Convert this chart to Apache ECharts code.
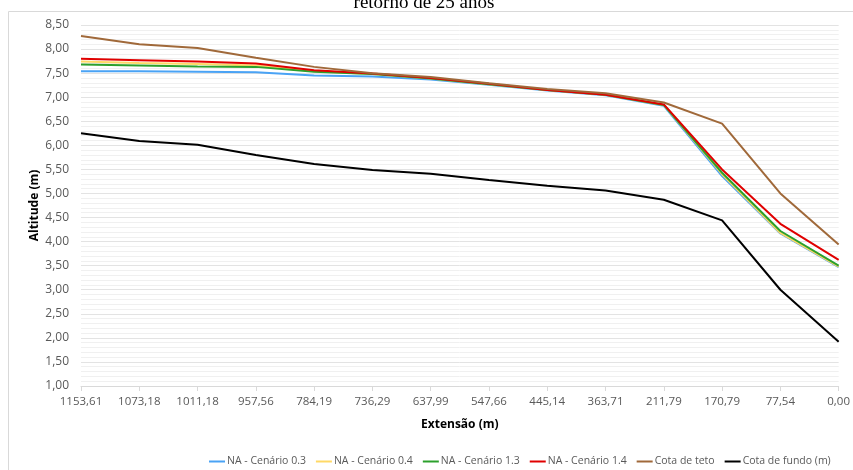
<!DOCTYPE html>
<html lang="pt">
<head>
    <meta charset="UTF-8">
    <title>Perfil - retorno de 25 anos</title>
    <script src="https://cdn.jsdelivr.net/npm/echarts@6/dist/echarts.min.js"></script>
    <style type="text/css">
        html, body { margin: 0; padding: 0; background: #fff; }
        #main { width: 853px; height: 470px; }
    </style>
</head>
<body>
<div id="main"></div>
<script type="text/javascript">
    // extensão (m), do início ao exutório
    var extensao = ['1153,61', '1073,18', '1011,18', '957,56', '784,19', '736,29', '637,99',
        '547,66', '445,14', '363,71', '211,79', '170,79', '77,54', '0,00'];

    // cotas (m)
    var naCenario03 = [7.54, 7.54, 7.53, 7.52, 7.45, 7.43, 7.37, 7.26, 7.14, 7.04, 6.82, 5.36, 4.17, 3.47];
    var naCenario04 = [7.74, 7.71, 7.69, 7.66, 7.54, 7.48, 7.39, 7.27, 7.15, 7.05, 6.84, 5.40, 4.18, 3.48];
    var naCenario13 = [7.68, 7.66, 7.64, 7.63, 7.53, 7.48, 7.39, 7.27, 7.15, 7.05, 6.84, 5.43, 4.22, 3.50];
    var naCenario14 = [7.80, 7.77, 7.74, 7.70, 7.56, 7.49, 7.40, 7.28, 7.15, 7.05, 6.85, 5.50, 4.37, 3.62];
    var cotaTeto = [8.27, 8.10, 8.02, 7.82, 7.63, 7.50, 7.42, 7.29, 7.17, 7.08, 6.89, 6.45, 5.00, 3.94];
    var cotaFundo = [6.25, 6.09, 6.01, 5.80, 5.61, 5.49, 5.41, 5.28, 5.16, 5.06, 4.87, 4.44, 3.00, 1.92];

    var myChart = echarts.init(document.getElementById('main'));

    var fonte = 'Open Sans, Noto Sans, sans-serif';

    function linha(nome, dados, cor) {
        return {
            name: nome,
            type: 'line',
            data: dados,
            symbol: 'none',
            lineStyle: { color: cor, width: 2 },
            itemStyle: { color: cor },
            z: 3
        };
    }

    var option = {
        animation: false,
        graphic: [
            {   // moldura da área do gráfico
                type: 'rect',
                shape: { x: 8.5, y: 11.5, width: 900, height: 500 },
                style: { fill: null, stroke: '#d9d9d9', lineWidth: 1 },
                silent: true
            },
            {   // título cortado no topo
                type: 'text',
                x: 424, y: -6,
                style: {
                    text: 'retorno de 25 anos',
                    font: '19px "Liberation Serif", serif',
                    fill: '#000',
                    textAlign: 'center',
                    textVerticalAlign: 'top'
                }
            }
        ],
        grid: { left: 81, right: 14, top: 25, bottom: 84 },
        legend: {
            left: 204,
            top: 451,
            width: 700,
            itemWidth: 16,
            itemHeight: 2,
            itemGap: 10,
            icon: 'rect',
            textStyle: { fontFamily: fonte, fontSize: 10.5, color: '#595959', padding: [0, 0, 0, -3] },
            data: ['NA - Cenário 0.3', 'NA - Cenário 0.4', 'NA - Cenário 1.3', 'NA - Cenário 1.4', 'Cota de teto', 'Cota de fundo (m)']
        },
        xAxis: {
            type: 'category',
            data: extensao,
            boundaryGap: false,
            name: 'Extensão (m)',
            nameLocation: 'middle',
            nameGap: 33,
            nameTextStyle: { fontFamily: fonte, fontSize: 12, fontWeight: 'bold', color: '#000' },
            axisLine: { lineStyle: { color: '#d9d9d9', width: 1 } },
            axisTick: { show: true, length: 5, lineStyle: { color: '#d9d9d9' } },
            axisLabel: { fontFamily: fonte, fontSize: 11.5, color: '#595959', margin: 10 },
            splitLine: { show: false }
        },
        yAxis: {
            type: 'value',
            min: 1,
            max: 8.5,
            interval: 0.5,
            name: 'Altitude (m)',
            nameLocation: 'middle',
            nameGap: 40,
            nameMoveOverlap: false,
            nameTextStyle: { fontFamily: fonte, fontSize: 12, fontWeight: 'bold', color: '#000' },
            axisLine: { show: false },
            axisTick: { show: false },
            axisLabel: {
                fontFamily: fonte, fontSize: 12, color: '#595959', margin: 12,
                formatter: function (v) { return v.toFixed(2).replace('.', ','); }
            },
            splitLine: { lineStyle: { color: '#e3e3e3', width: 1 } },
            minorTick: { show: false, splitNumber: 5 },
            minorSplitLine: { show: true, lineStyle: { color: '#f0f0f0', width: 1 } }
        },
        series: [
            linha('NA - Cenário 0.3', naCenario03, '#4aa3f5'),
            linha('NA - Cenário 0.4', naCenario04, '#ffd966'),
            linha('NA - Cenário 1.3', naCenario13, '#2ca02c'),
            linha('NA - Cenário 1.4', naCenario14, '#e00000'),
            linha('Cota de teto', cotaTeto, '#a0693a'),
            linha('Cota de fundo (m)', cotaFundo, '#000000')
        ]
    };

    myChart.setOption(option);
</script>
</body>
</html>
